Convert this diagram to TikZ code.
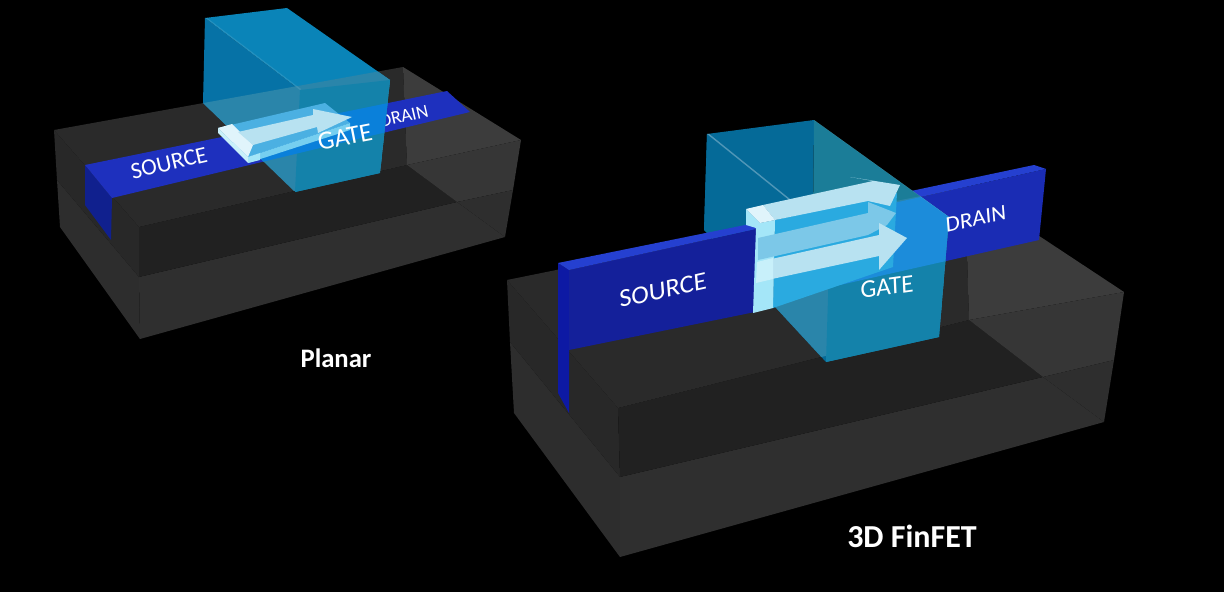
\documentclass[tikz,border=0pt]{standalone}
\usepackage{fontspec}
\setmainfont{Carlito}
\definecolor{bTop}{HTML}{2A2A2A}
\definecolor{bFrontU}{HTML}{212121}
\definecolor{bLeftU}{HTML}{282828}
\definecolor{bLeftL}{HTML}{2D2D2D}
\definecolor{bFrontL}{HTML}{2F2F2F}
\definecolor{bRtop}{HTML}{3C3C3C}
\definecolor{bRmid}{HTML}{363636}
\definecolor{bRlow}{HTML}{2E2E2E}
\definecolor{stripB}{HTML}{1E30BE}
\definecolor{stripS}{HTML}{10208E}
\definecolor{finFront}{HTML}{14209A}
\definecolor{finFrontR}{HTML}{1A2CB4}
\definecolor{finTop}{HTML}{2540D0}
\definecolor{gLeft}{HTML}{0672A6}
\definecolor{gLeftF}{HTML}{056A98}
\definecolor{gTop}{HTML}{0A84B8}
\definecolor{gTopF}{HTML}{1B7D98}
\definecolor{gFront}{HTML}{0C82B0}
\definecolor{gOverB}{HTML}{2A85AA}
\definecolor{gOverF}{HTML}{1482AA}
\definecolor{gOverS}{HTML}{0A80DA}
\definecolor{gOverSF}{HTML}{1C8CDA}
\definecolor{chanTop}{HTML}{4BB0E2}
\definecolor{chanSide}{HTML}{76CFF0}
\definecolor{chanFront}{HTML}{2AAAE0}
\definecolor{chanBand}{HTML}{7CC8E8}
\definecolor{arrowW}{HTML}{B8E2F1}
\definecolor{slabW}{HTML}{E0F4FB}
\definecolor{stemC}{HTML}{A4E6F8}
\definecolor{stemL}{HTML}{C8F0FA}
\tikzset{
  x=0.75pt,y=-0.75pt,
  lbl/.style={text=white,inner sep=0pt},
  lblfin/.style={text=white,inner sep=0pt,transform shape},
  caption/.style={text=white,inner sep=0pt}
}
\begin{document}
\begin{tikzpicture}
\useasboundingbox (0,0) rectangle (1224,592);
\fill[black] (0,0) rectangle (1224,592);

% ================ PLANAR ================
% block
\fill[bLeftL] (57,180) -- (139,277) -- (140,339) -- (60,227) -- cycle;
\fill[bLeftU] (54,130) -- (139,227) -- (139,277) -- (57,180) -- cycle;
\fill[bFrontL] (139,277) -- (457,202) -- (505,237) -- (140,339) -- cycle;
\fill[bFrontU] (139,227) -- (407,165) -- (457,202) -- (139,277) -- cycle;
\fill[bTop] (54,130) -- (403,67) -- (407,165) -- (139,227) -- cycle;
\fill[bRtop] (403,67) -- (521,140) -- (407,165) -- cycle;
\fill[bRmid] (407,165) -- (521,140) -- (513,190) -- (457,202) -- cycle;
\fill[bRlow] (457,202) -- (513,190) -- (505,237) -- cycle;
% strip
\fill[stripS] (85,165) -- (112,198) -- (111,240) -- (85,205) -- cycle;
\fill[stripB] (85,165) -- (447,91) -- (470,112) -- (112,198) -- cycle;
\node[lbl,rotate=13,font=\fontsize{17.6}{18}\selectfont] (psource) at (169,163) {SOURCE};
\node[lbl,rotate=13,font=\fontsize{14}{14}\selectfont] (pdrain) at (404,116) {DRAIN};
% gate
\fill[gLeft] (205,18) -- (300,90) -- (297,192) -- (203,103) -- cycle;
\fill[gTop] (205,18) -- (287,8) -- (390,80) -- (300,90) -- cycle;
\fill[gFront] (300,90) -- (390,80) -- (380,173) -- (295,192) -- cycle;
\begin{scope}
\clip (205,18) -- (287,8) -- (390,80) -- (380,173) -- (295,192) -- (203,103) -- cycle;
\fill[gOverB] (54,130) -- (403,67) -- (407,165) -- (139,227) -- cycle;
\fill[gOverF] (300,90) -- (390,80) -- (380,173) -- (295,192) -- cycle;
\fill[gOverS] (85,165) -- (447,91) -- (470,112) -- (112,198) -- cycle;
\fill[white,opacity=.1] (205,18) -- (206,17) -- (301,89) -- (300,90) -- cycle;
\end{scope}
% channel
\fill[chanTop] (218,128) -- (325,103) -- (350,123) -- (248,157) -- cycle;
\fill[chanSide] (248,157) -- (350,123) -- (350,130) -- (248,163) -- cycle;
\fill[slabW] (218,128) -- (232,124) -- (253,145) -- (248,157) -- cycle;
\fill[stemL] (218,128) -- (248,157) -- (248,163) -- (218,133) -- cycle;
\fill[stemC] (248,157) -- (260,153) -- (260,160) -- (248,163) -- cycle;
\fill[arrowW] (238,132) -- (313,115) -- (313,109) -- (352,117) -- (318,133) -- (317,127) -- (253,145) -- cycle;
\node[lbl,rotate=11,font=\fontsize{19.5}{20}\selectfont] (pgate) at (345,137) {GATE};
\node[caption,font=\fontsize{20}{20}\selectfont\bfseries] (planar) at (336,358) {Planar};

% ================ FINFET ================
% block
\fill[bLeftL] (510,342) -- (620,477) -- (620,557) -- (514,413) -- cycle;
\fill[bLeftU] (507,280) -- (618,408) -- (620,477) -- (510,342) -- cycle;
\fill[bFrontL] (620,477) -- (1043,377) -- (1104,422) -- (620,557) -- cycle;
\fill[bFrontU] (618,408) -- (969,320) -- (1043,377) -- (620,477) -- cycle;
\fill[bTop] (507,280) -- (965,187) -- (969,320) -- (618,408) -- cycle;
\fill[bRtop] (965,187) -- (1124,292) -- (969,320) -- cycle;
\fill[bRmid] (969,320) -- (1124,292) -- (1114,360) -- (1043,377) -- cycle;
\fill[bRlow] (1043,377) -- (1114,360) -- (1104,422) -- cycle;
% drain part of the fin
\fill[finFrontR] (840,215) -- (1046,169) -- (1039,240) -- (840,285) -- cycle;
\fill[finTop] (840,206) -- (1034,165) -- (1046,169) -- (840,215) -- cycle;
% gate
\fill[gLeftF] (707,134) -- (830,233) -- (826,362) -- (704,230) -- cycle;
\fill[gLeftF] (707,134) -- (814,120) -- (813,215) -- (704,230) -- cycle;
\fill[gTopF] (814,120) -- (949,217) -- (830,233) -- (813,215) -- cycle;
\fill[gFront] (830,233) -- (949,217) -- (939,337) -- (826,362) -- cycle;
\begin{scope}
\clip (707,134) -- (814,120) -- (949,217) -- (939,337) -- (826,362) -- (704,230) -- cycle;
\fill[gOverB] (507,280) -- (965,187) -- (969,320) -- (618,408) -- cycle;
\fill[gOverF] (830,233) -- (949,217) -- (939,337) -- (826,362) -- cycle;
\fill[gOverSF] (840,215) -- (1046,169) -- (1039,240) -- (840,285) -- cycle;
\fill[white,opacity=.3] (707,134) -- (708,133) -- (831,232) -- (830,233) -- cycle;
\fill[white,opacity=.3] (814,120) -- (815,119) -- (950,216) -- (949,217) -- cycle;
\end{scope}
\node[lblfin,xslant=.15,rotate=13,font=\fontsize{17}{17}\selectfont] (fdrain) at (976,219) {DRAIN};
% source part of the fin (in front of the gate)
\fill[stripS!80!blue] (558,263) -- (569,270) -- (569,413) -- (558,393) -- cycle;
\fill[finFront] (569,270) -- (760,228) -- (755,312) -- (569,350) -- cycle;
\fill[finTop] (558,263) -- (750,224) -- (760,228) -- (569,270) -- cycle;
\node[lblfin,xslant=.15,rotate=13,font=\fontsize{19.5}{20}\selectfont] (fsource) at (663,290) {SOURCE};
% channel
\fill[chanFront] (775,220) -- (897,193) -- (893,267) -- (773,308) -- cycle;
\fill[stemC] (746,209) -- (760,223) -- (775,220) -- (773,308) -- (753,313) -- (756,228) -- (746,225) -- cycle;
\fill[chanBand] (758,238) -- (868,213) -- (868,202) -- (896,213) -- (887,225) -- (868,235) -- (758,260) -- cycle;
\fill[arrowW] (758,262) -- (879,235) -- (879,223) -- (907,238) -- (879,270) -- (879,256) -- (758,282) -- cycle;
\fill[arrowW] (763,205) -- (873,181) -- (850,177) -- (900,185) -- (890,206) -- (868,201) -- (775,220) -- cycle;
\fill[stemL] (757,262) -- (773,258) -- (773,279) -- (756,283) -- cycle;
\fill[slabW] (746,209) -- (763,205) -- (775,220) -- (760,223) -- cycle;
\node[lblfin,rotate=8,xslant=.1,font=\fontsize{19}{19}\selectfont] (fgate) at (887,287) {GATE};
\node[caption,font=\fontsize{24}{24}\selectfont\bfseries] (finfet) at (912,536) {3D FinFET};
\end{tikzpicture}
\end{document}
